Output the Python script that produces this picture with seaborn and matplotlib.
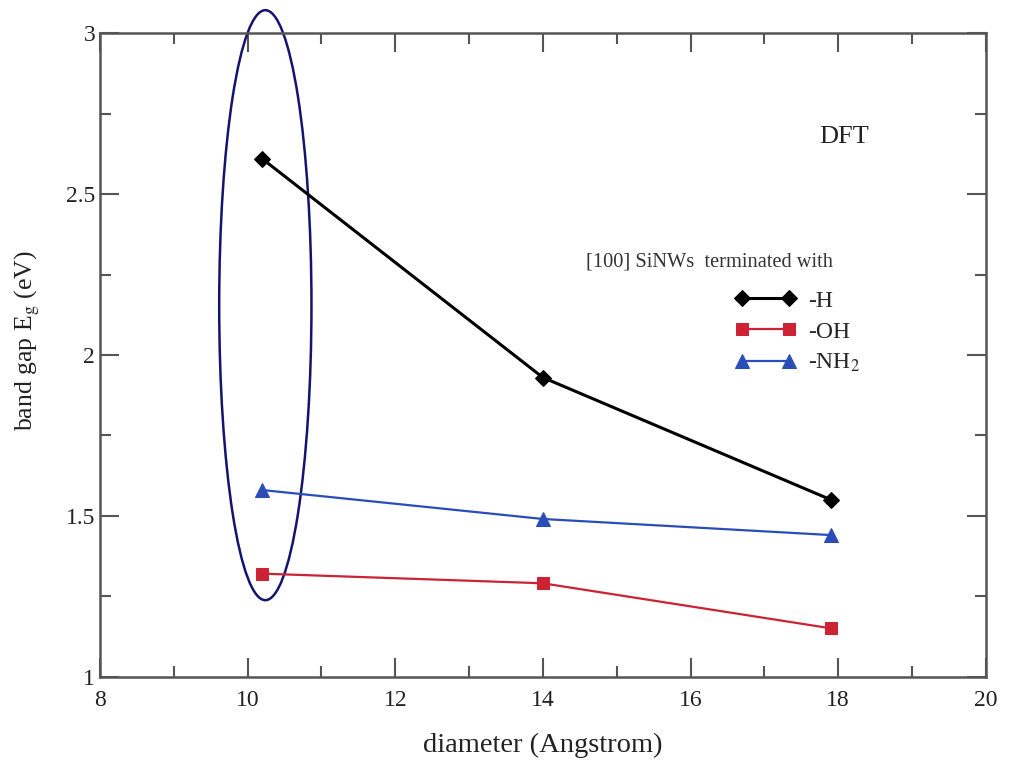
import matplotlib
matplotlib.use("Agg")
import matplotlib.pyplot as plt
import seaborn as sns
import pandas as pd
from matplotlib.patches import Ellipse
from matplotlib.ticker import MultipleLocator

diameter = [10.2, 14.0, 17.9]
gap_H = [2.61, 1.93, 1.55]
gap_OH = [1.32, 1.29, 1.15]
gap_NH2 = [1.58, 1.49, 1.44]
series_labels = ["-H", "-OH", "-NH$_2$"]
x_ticks = [8, 10, 12, 14, 16, 18, 20]
y_ticks = [1, 1.5, 2, 2.5, 3]
y_tick_labels = ["1", "1.5", "2", "2.5", "3"]

sns.set_theme(style="white")
plt.rcParams['font.family'] = ['Liberation Serif', 'DejaVu Serif']
plt.rcParams['mathtext.fontset'] = 'stix'
plt.rcParams['legend.numpoints'] = 2

df = pd.DataFrame({
    "diameter": diameter * 3,
    "gap": gap_H + gap_OH + gap_NH2,
    "term": [series_labels[0]] * 3 + [series_labels[1]] * 3 + [series_labels[2]] * 3,
})

fig = plt.figure(figsize=(10.10, 7.61), dpi=100)
ax = fig.add_axes([0.099, 0.111, 0.877, 0.845])

colors = ["#000000", "#cc2233", "#2a4db8"]
markers = ["D", "s", "^"]
sizes = [8.5, 8.5, 9.5]
for lab, c, m, s in zip(series_labels, colors, markers, sizes):
    sub = df[df["term"] == lab]
    sns.lineplot(data=sub, x="diameter", y="gap", ax=ax, color=c, marker=m,
                 markersize=s, markeredgecolor=c, linewidth=2.2 if lab == "-H" else 1.6,
                 label=lab, estimator=None)

ax.set_xlim(8, 20)
ax.set_ylim(1, 3)
ax.set_xticks(x_ticks)
ax.set_yticks(y_ticks)
ax.set_yticklabels(y_tick_labels)
ax.xaxis.set_minor_locator(MultipleLocator(1))
ax.yaxis.set_minor_locator(MultipleLocator(0.25))
ax.tick_params(which="both", direction="in", top=True, right=True, bottom=True, left=True,
               colors="#555555", labelcolor="#222222", labelsize=17)
ax.tick_params(which="major", length=14, width=1.5)
ax.tick_params(which="minor", length=8, width=1.5)
ax.tick_params(axis="x", which="major", pad=10)
for sp in ax.spines.values():
    sp.set_color("#555555")
    sp.set_linewidth(1.8)

ax.set_xlabel("diameter (Angstrom)", fontsize=20.5, color="#222222")
ax.xaxis.set_label_coords(0.5, -0.088)
ax.set_ylabel("band gap E$_\\mathrm{g}$ (eV)", fontsize=18.5, color="#222222")
ax.yaxis.set_label_coords(-0.066, 0.523)

ax.text(0.84, 0.83, "DFT", transform=ax.transAxes, fontsize=19, color="#222222", ha="center")
ax.text(0.549, 0.638, "[100] SiNWs  terminated with", transform=ax.transAxes,
        fontsize=14.7, color="#333333")

leg = ax.legend(loc="upper left", bbox_to_anchor=(0.693, 0.634), frameon=False,
                fontsize=17, handlelength=2.6, labelspacing=0.4, handletextpad=0.5,
                numpoints=2)

ell = Ellipse((10.24, 2.155), width=1.25, height=1.835, fill=False,
              edgecolor="#141470", linewidth=1.8, clip_on=False)
ax.add_patch(ell)

fig.savefig("out.png", dpi=100)
